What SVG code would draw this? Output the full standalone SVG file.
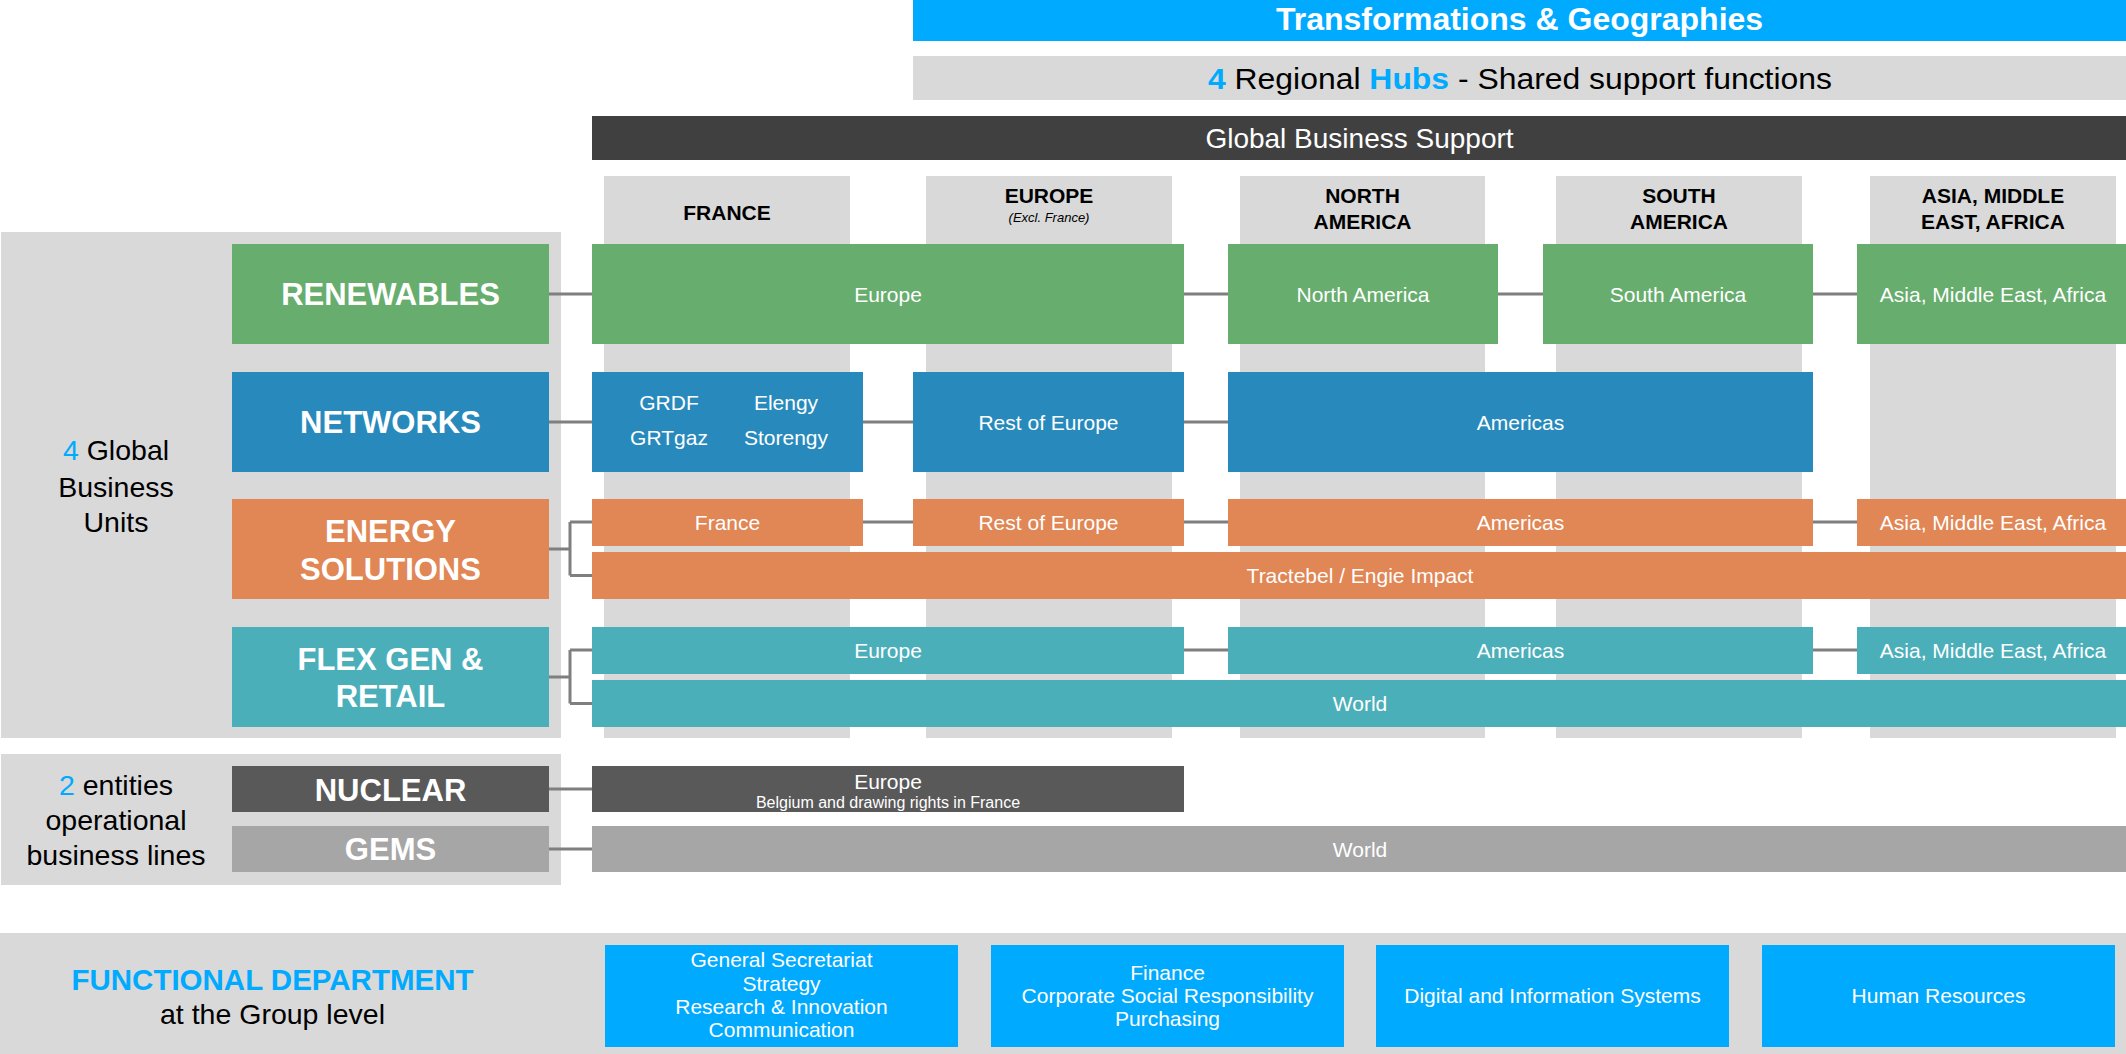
<svg xmlns="http://www.w3.org/2000/svg" width="2126" height="1054" viewBox="0 0 2126 1054">
<style>
text{font-family:"Liberation Sans",Arial,sans-serif;text-anchor:middle}
.panel{fill:#D9D9D9}
.col{fill:#D9D9D9}
.green{fill:#67AD6E}
.blue{fill:#288ABC}
.orange{fill:#E18655}
.teal{fill:#4BAFBA}
.dark{fill:#595959}
.gems{fill:#A6A6A6}
.func{fill:#00AAFF}
.bu{font-size:31px;font-weight:bold;fill:#fff}
.in{font-size:21px;fill:#fff}
.hdr{font-size:21px;font-weight:bold;fill:#000}
.side{font-size:28.5px;fill:#000}
.accent{fill:#00AAFF}
.conn{stroke:#7F7F7F;stroke-width:3;fill:none}
</style>

<!-- background panels -->
<g id="panels">
<rect class="panel" x="1" y="232" width="560" height="506"/>
<rect class="panel" x="1" y="754" width="560" height="131"/>
<rect class="panel" x="0" y="933" width="2126" height="121"/>
</g>

<!-- top bars -->
<g id="transformations">
<rect x="913" y="0" width="1213" height="41" fill="#00AAFF"/>
<text x="1519.5" y="30" font-size="32" font-weight="bold" fill="#fff">Transformations &amp; Geographies</text>
</g>
<g id="hubs">
<rect x="913" y="56" width="1213" height="44" fill="#D9D9D9"/>
<text x="1520" y="89" font-size="29" fill="#000" textLength="624" lengthAdjust="spacingAndGlyphs"><tspan class="accent" font-weight="bold">4</tspan> Regional <tspan class="accent" font-weight="bold">Hubs</tspan> - Shared support functions</text>
</g>
<g id="gbs">
<rect x="592" y="116" width="1534" height="44" fill="#404040"/>
<text x="1359.5" y="148" font-size="28" fill="#fff">Global Business Support</text>
</g>

<!-- geography columns -->
<g id="col-france">
<rect class="col" x="604" y="176" width="246" height="562"/>
<text class="hdr" x="727" y="220">FRANCE</text>
</g>
<g id="col-europe">
<rect class="col" x="926" y="176" width="246" height="562"/>
<text class="hdr" x="1049" y="203">EUROPE</text>
<text x="1049" y="222" font-size="13" font-style="italic" fill="#000">(Excl. France)</text>
</g>
<g id="col-north-america">
<rect class="col" x="1240" y="176" width="245" height="562"/>
<text class="hdr" x="1362.5" y="203">NORTH</text>
<text class="hdr" x="1362.5" y="229">AMERICA</text>
</g>
<g id="col-south-america">
<rect class="col" x="1556" y="176" width="246" height="562"/>
<text class="hdr" x="1679" y="203">SOUTH</text>
<text class="hdr" x="1679" y="229">AMERICA</text>
</g>
<g id="col-asia">
<rect class="col" x="1870" y="176" width="246" height="562"/>
<text class="hdr" x="1993" y="203">ASIA, MIDDLE</text>
<text class="hdr" x="1993" y="229">EAST, AFRICA</text>
</g>

<!-- side labels -->
<g id="label-gbu">
<text class="side" x="116" y="460"><tspan class="accent">4</tspan> Global</text>
<text class="side" x="116" y="496.5">Business</text>
<text class="side" x="116" y="532">Units</text>
</g>
<g id="label-entities">
<text class="side" x="116" y="795"><tspan class="accent">2</tspan> entities</text>
<text class="side" x="116" y="830">operational</text>
<text class="side" x="116" y="865">business lines</text>
</g>

<!-- connectors -->
<g id="connectors" class="conn">
<path d="M549 294H592M1184 294H1228M1498 294H1543M1813 294H1857"/>
<path d="M549 422H592M863 422H913M1184 422H1228"/>
<path d="M549 549H570M570 522V575.5M570 522H592M570 575.5H592M863 522H913M1184 522H1228M1813 522H1857"/>
<path d="M549 677H570M570 650V703.5M570 650H592M570 703.5H592M1184 650H1228M1813 650H1857"/>
<path d="M549 789H592"/>
<path d="M549 849H592"/>
</g>

<!-- business units -->
<g id="renewables">
<rect class="green" x="232" y="244" width="317" height="100"/>
<text class="bu" x="390.5" y="305">RENEWABLES</text>
</g>
<g id="networks">
<rect class="blue" x="232" y="372" width="317" height="100"/>
<text class="bu" x="390.5" y="433">NETWORKS</text>
</g>
<g id="energy-solutions">
<rect class="orange" x="232" y="499" width="317" height="100"/>
<text class="bu" x="390.5" y="541.5">ENERGY</text>
<text class="bu" x="390.5" y="580">SOLUTIONS</text>
</g>
<g id="flex-gen-retail">
<rect class="teal" x="232" y="627" width="317" height="100"/>
<text class="bu" x="390.5" y="670">FLEX GEN &amp;</text>
<text class="bu" x="390.5" y="707">RETAIL</text>
</g>
<g id="nuclear">
<rect class="dark" x="232" y="766" width="317" height="46"/>
<text class="bu" x="390.5" y="801">NUCLEAR</text>
</g>
<g id="gems">
<rect class="gems" x="232" y="826" width="317" height="46"/>
<text class="bu" x="390.5" y="860">GEMS</text>
</g>

<!-- renewables row -->
<g id="ren-europe"><rect class="green" x="592" y="244" width="592" height="100"/><text class="in" x="888" y="301.5">Europe</text></g>
<g id="ren-na"><rect class="green" x="1228" y="244" width="270" height="100"/><text class="in" x="1363" y="301.5">North America</text></g>
<g id="ren-sa"><rect class="green" x="1543" y="244" width="270" height="100"/><text class="in" x="1678" y="301.5">South America</text></g>
<g id="ren-asia"><rect class="green" x="1857" y="244" width="269" height="100"/><text class="in" x="1993" y="301.5">Asia, Middle East, Africa</text></g>

<!-- networks row -->
<g id="net-france">
<rect class="blue" x="592" y="372" width="271" height="100"/>
<text class="in" x="669" y="410">GRDF</text>
<text class="in" x="786" y="410">Elengy</text>
<text class="in" x="669" y="445">GRTgaz</text>
<text class="in" x="786" y="445">Storengy</text>
</g>
<g id="net-roe"><rect class="blue" x="913" y="372" width="271" height="100"/><text class="in" x="1048.5" y="429.5">Rest of Europe</text></g>
<g id="net-americas"><rect class="blue" x="1228" y="372" width="585" height="100"/><text class="in" x="1520.5" y="429.5">Americas</text></g>

<!-- energy solutions row -->
<g id="es-france"><rect class="orange" x="592" y="499" width="271" height="47"/><text class="in" x="727.5" y="529.5">France</text></g>
<g id="es-roe"><rect class="orange" x="913" y="499" width="271" height="47"/><text class="in" x="1048.5" y="529.5">Rest of Europe</text></g>
<g id="es-americas"><rect class="orange" x="1228" y="499" width="585" height="47"/><text class="in" x="1520.5" y="529.5">Americas</text></g>
<g id="es-asia"><rect class="orange" x="1857" y="499" width="269" height="47"/><text class="in" x="1993" y="529.5">Asia, Middle East, Africa</text></g>
<g id="es-tractebel"><rect class="orange" x="592" y="552" width="1534" height="47"/><text class="in" x="1360" y="583">Tractebel / Engie Impact</text></g>

<!-- flex gen row -->
<g id="fg-europe"><rect class="teal" x="592" y="627" width="592" height="47"/><text class="in" x="888" y="657.5">Europe</text></g>
<g id="fg-americas"><rect class="teal" x="1228" y="627" width="585" height="47"/><text class="in" x="1520.5" y="657.5">Americas</text></g>
<g id="fg-asia"><rect class="teal" x="1857" y="627" width="269" height="47"/><text class="in" x="1993" y="657.5">Asia, Middle East, Africa</text></g>
<g id="fg-world"><rect class="teal" x="592" y="680" width="1534" height="47"/><text class="in" x="1360" y="710.5">World</text></g>

<!-- nuclear / gems rows -->
<g id="nuc-europe">
<rect class="dark" x="592" y="766" width="592" height="46"/>
<text class="in" x="888" y="789">Europe</text>
<text x="888" y="808" font-size="16" fill="#fff">Belgium and drawing rights in France</text>
</g>
<g id="gems-world"><rect class="gems" x="592" y="826" width="1534" height="46"/><text class="in" x="1360" y="856.5">World</text></g>

<!-- functional department -->
<g id="functional-label">
<text x="272.5" y="990" font-size="29.5" font-weight="bold" fill="#00AAFF">FUNCTIONAL DEPARTMENT</text>
<text x="272.5" y="1024" font-size="28.5" fill="#000">at the Group level</text>
</g>
<g id="func-gs">
<rect class="func" x="605" y="945" width="353" height="102"/>
<text class="in" x="781.5" y="967">General Secretariat</text>
<text class="in" x="781.5" y="990.5">Strategy</text>
<text class="in" x="781.5" y="1014">Research &amp; Innovation</text>
<text class="in" x="781.5" y="1037">Communication</text>
</g>
<g id="func-finance">
<rect class="func" x="991" y="945" width="353" height="102"/>
<text class="in" x="1167.5" y="979.5">Finance</text>
<text class="in" x="1167.5" y="1002.5">Corporate Social Responsibility</text>
<text class="in" x="1167.5" y="1025.5">Purchasing</text>
</g>
<g id="func-digital">
<rect class="func" x="1376" y="945" width="353" height="102"/>
<text class="in" x="1552.5" y="1002.5">Digital and Information Systems</text>
</g>
<g id="func-hr">
<rect class="func" x="1762" y="945" width="353" height="102"/>
<text class="in" x="1938.5" y="1002.5">Human Resources</text>
</g>
</svg>
